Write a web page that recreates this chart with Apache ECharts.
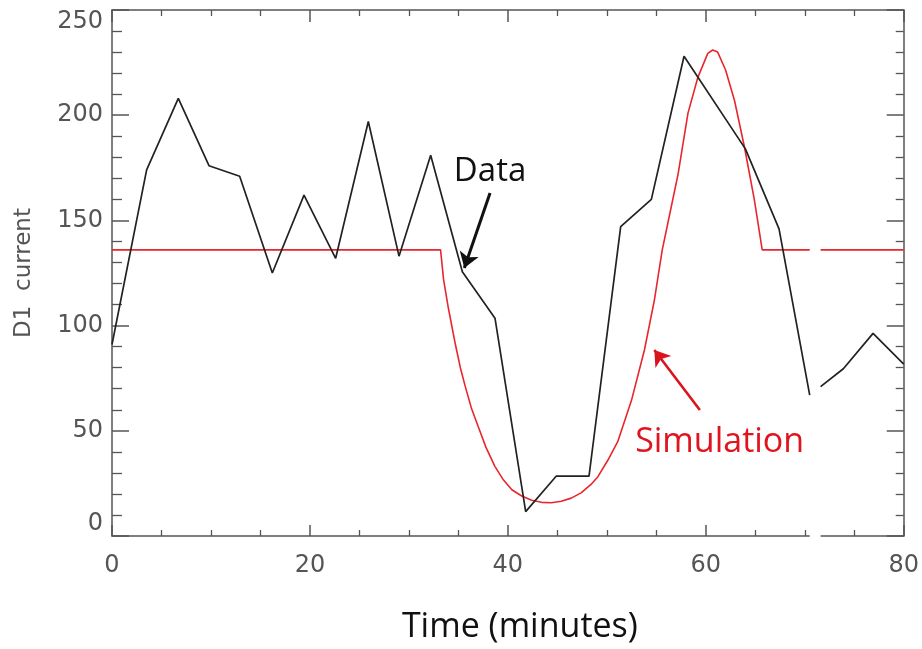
<!DOCTYPE html>
<html>
<head>
<meta charset="utf-8">
<script src="https://cdn.jsdelivr.net/npm/echarts@6/dist/echarts.min.js"></script>
<style>html,body{margin:0;padding:0;background:#fff}#c{width:922px;height:649px}</style>
</head>
<body>
<div id="c"></div>
<script>
// ---- data ----
const xTicks = [0, 20, 40, 60, 80];
const yTicks = [0, 50, 100, 150, 200, 250];

// measured D1 current (x = minutes, y = current); null marks the break in the plot
const dataTime = [0, 3.5, 6.7, 9.8, 12.9, 16.2, 19.4, 22.6, 25.9, 29.0, 32.2, 35.4, 38.7, 41.8, 44.9, 48.2, 51.4, 54.5, 57.8, 64.0, 67.4, 70.5, null, 71.6, 73.9, 76.9, 80];
const dataValue = [91, 174, 208, 176, 171, 125, 162, 132, 197, 133, 181, 125.6, 103.5, 11.6, 28.5, 28.5, 147, 160, 228, 184, 146, 67, null, 71, 79.5, 96.3, 81.7];

// simulation
const simTime = [0, 33.2, 33.5, 34.0, 34.7, 35.2, 35.7, 36.3, 37.0, 37.8, 38.7, 39.5, 40.4, 41.4, 42.4, 43.4, 44.4, 45.4, 46.4, 47.4, 48.4, 49.1, 50.1, 51.1, 52.5, 53.8, 54.8, 55.6, 56.4, 57.2, 58.2, 59.2, 60.2, 60.7, 61.2, 62.0, 62.9, 63.9, 64.9, 65.7, 70.5, null, 71.6, 80];
const simValue = [136, 136, 122, 108, 91, 80, 71, 61, 52, 42, 33, 27, 22, 19, 17, 16, 15.8, 16.5, 18, 20.5, 24.5, 28.2, 36, 44.8, 64.6, 88.4, 112, 136, 154, 172, 201, 218, 229.4, 231, 230, 221.5, 207, 185, 160, 136, 136, null, 136, 136];

// break in the x axis
const axisBreak = [70.5, 71.6];

// annotations
const dataArrow = [[38.2, 163], [35.6, 127.4]];
const simArrow = [[59.4, 59.9], [54.8, 88.4]];
const dataLabel = {text: 'Data', coord: [38.2, 173]};
const simLabel = {text: 'Simulation', coord: [61.4, 44.7]};

const pairs = (xs, ys) => xs.map((x, i) => (x === null ? [null, null] : [x, ys[i]]));

const chart = echarts.init(document.getElementById('c'), null, {renderer: 'canvas'});
const axisCol = '#555';
const tickFont = {fontFamily: 'DejaVu Sans', fontSize: 24, color: '#555'};

const xBase = {
  type: 'value', min: xTicks[0], max: xTicks[xTicks.length - 1], interval: 20,
  splitLine: {show: false},
  axisLine: {show: true, onZero: false, lineStyle: {color: axisCol, width: 1.5}},
  minorTick: {show: true, splitNumber: 4, length: 6, lineStyle: {color: axisCol, width: 1.3}},
  axisTick: {show: true, inside: true, length: 11, lineStyle: {color: axisCol, width: 1.5}}
};
const yBase = {
  type: 'value', min: yTicks[0], max: yTicks[yTicks.length - 1], interval: 50,
  splitLine: {show: false},
  axisLine: {show: true, onZero: false, lineStyle: {color: axisCol, width: 1.5}},
  minorTick: {show: true, splitNumber: 5, length: 10, lineStyle: {color: axisCol, width: 1.3}},
  axisTick: {show: true, inside: true, length: 17, lineStyle: {color: axisCol, width: 1.5}}
};

chart.setOption({
  animation: false,
  backgroundColor: '#fff',
  grid: {left: 112, top: 10, right: 15, bottom: 113, containLabel: false},
  xAxis: [
    Object.assign({}, xBase, {
      position: 'bottom',
      axisLabel: Object.assign({margin: 18}, tickFont),
      name: 'Time (minutes)', nameLocation: 'middle', nameGap: 74,
      nameTextStyle: {fontFamily: 'Open Sans', fontSize: 34, color: '#111', padding: [0, 0, 0, 24]}
    }),
    Object.assign({}, xBase, {
      position: 'top',
      axisLabel: {show: false},
      axisTick: {show: true, inside: true, length: 12, lineStyle: {color: axisCol, width: 1.5}}
    })
  ],
  yAxis: [
    Object.assign({}, yBase, {
      position: 'left',
      axisLabel: Object.assign({margin: 9, verticalAlignMinLabel: 'bottom', verticalAlignMaxLabel: 'top'}, tickFont),
      name: 'D1  current', nameLocation: 'middle', nameGap: 76,
      nameTextStyle: {fontFamily: 'DejaVu Sans', fontSize: 23, color: '#555'}
    }),
    Object.assign({}, yBase, {
      position: 'right',
      axisLabel: {show: false},
      minorTick: {show: true, splitNumber: 5, length: 8, lineStyle: {color: axisCol, width: 1.3}}
    })
  ],
  series: [
    {
      name: 'Simulation', type: 'line', data: pairs(simTime, simValue),
      showSymbol: false, connectNulls: false, smooth: false,
      lineStyle: {color: '#e8262c', width: 1.6}, z: 3,
      markLine: {
        silent: true, symbol: ['none', 'arrow'], symbolSize: 15,
        label: {show: false},
        lineStyle: {color: '#d9141c', width: 2.6, type: 'solid'},
        data: [[{coord: simArrow[0]}, {coord: simArrow[1]}]]
      },
      markPoint: {
        silent: true, symbol: 'circle', symbolSize: 0,
        label: {show: true, position: 'inside', formatter: simLabel.text, fontFamily: 'Open Sans', fontSize: 34, color: '#e0141e'},
        data: [{coord: simLabel.coord}]
      }
    },
    {
      name: 'Data', type: 'line', data: pairs(dataTime, dataValue),
      showSymbol: false, connectNulls: false,
      lineStyle: {color: '#222', width: 1.7}, z: 4,
      markLine: {
        silent: true, symbol: ['none', 'arrow'], symbolSize: 15,
        label: {show: false},
        lineStyle: {color: '#111', width: 3, type: 'solid'},
        data: [[{coord: dataArrow[0]}, {coord: dataArrow[1]}]]
      },
      markPoint: {
        silent: true, symbol: 'circle', symbolSize: 0,
        label: {show: true, position: 'inside', formatter: dataLabel.text, fontFamily: 'Open Sans', fontSize: 33, color: '#111'},
        data: [{coord: dataLabel.coord}]
      }
    }
  ]
});

// white cut in the bottom axis line at the break
const bx0 = chart.convertToPixel({xAxisIndex: 0}, axisBreak[0]);
const bx1 = chart.convertToPixel({xAxisIndex: 0}, axisBreak[1]);
const by = chart.convertToPixel({yAxisIndex: 0}, 0);
chart.setOption({
  graphic: [{type: 'rect', z: 100, shape: {x: bx0, y: by - 4, width: bx1 - bx0, height: 8}, style: {fill: '#fff'}}]
});
</script>
</body>
</html>
